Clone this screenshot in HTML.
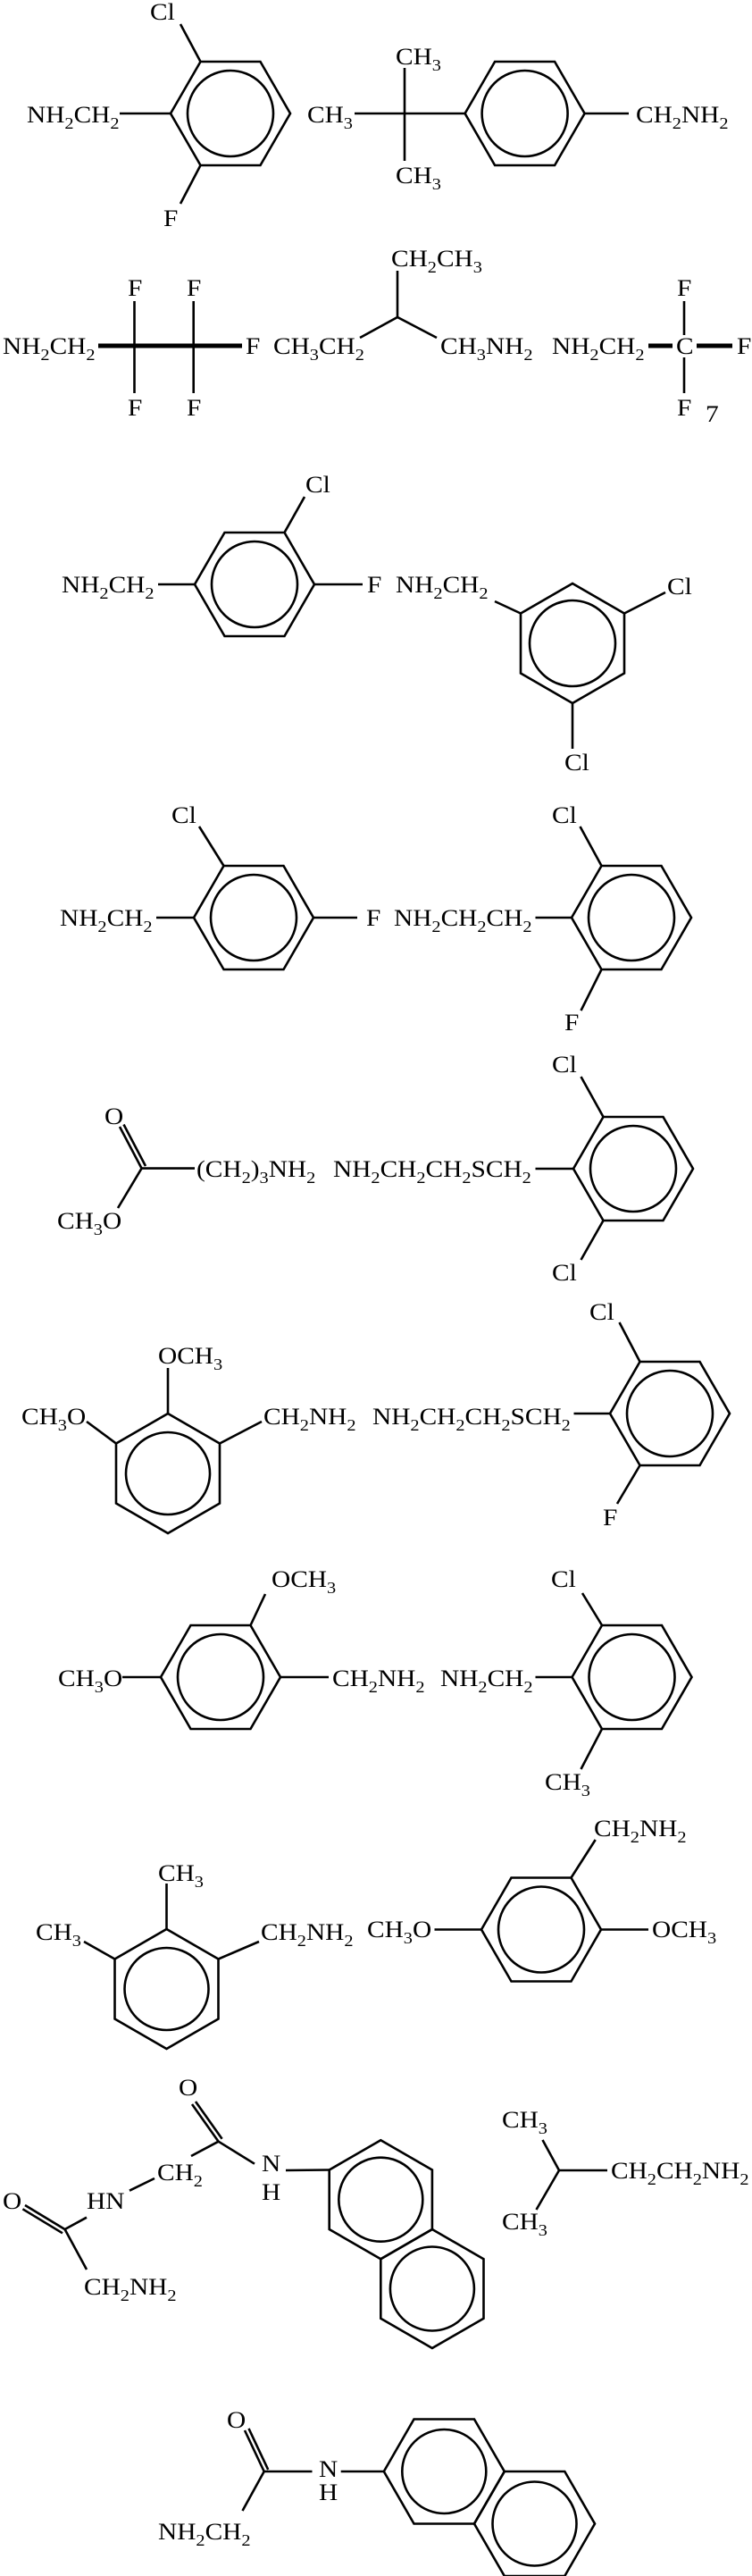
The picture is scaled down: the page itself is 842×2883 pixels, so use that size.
<!DOCTYPE html>
<html><head><meta charset="utf-8"><style>
html,body{margin:0;padding:0;background:#fff}
svg{display:block}
text{font-family:"Liberation Serif",serif;font-size:26px;fill:#000}
</style></head><body>
<svg width="842" height="2883" viewBox="0 0 842 2883" xmlns="http://www.w3.org/2000/svg">
<g fill="none" stroke="#000" stroke-width="2.6">
<!-- Row1 -->
<polygon points="191,127 224.5,69 291.5,69 325,127 291.5,185 224.5,185"/><circle cx="258" cy="127" r="48"/>
<line x1="202" y1="27" x2="224.5" y2="69"/><line x1="134" y1="127" x2="191" y2="127"/><line x1="224.5" y1="185" x2="202" y2="228"/>
<polygon points="520.6,127 554.1,69 621.1,69 654.6,127 621.1,185 554.1,185"/><circle cx="587.6" cy="127" r="48"/>
<line x1="397" y1="127" x2="520.6" y2="127"/><line x1="453" y1="76" x2="453" y2="180"/><line x1="654.6" y1="127" x2="704" y2="127"/>
<!-- Row2 -->
<line x1="110" y1="387" x2="271" y2="387" stroke-width="5"/>
<line x1="150.5" y1="337" x2="150.5" y2="440"/><line x1="216.7" y1="337" x2="216.7" y2="440"/>
<polyline points="403,378 445,355 489,378"/><line x1="445" y1="355" x2="445" y2="303"/>
<line x1="726" y1="387" x2="753" y2="387" stroke-width="5"/><line x1="780" y1="387" x2="820" y2="387" stroke-width="5"/>
<line x1="766" y1="337" x2="766" y2="375"/><line x1="766" y1="400" x2="766" y2="440"/>
<!-- Row3 -->
<polygon points="218,654 251.5,596 318.5,596 352,654 318.5,712 251.5,712"/><circle cx="285" cy="654" r="48"/>
<line x1="177" y1="654" x2="218" y2="654"/><line x1="352" y1="654" x2="406" y2="654"/><line x1="318.5" y1="596" x2="341" y2="556"/>
<polygon points="641,653 699,686.5 699,753.5 641,787 583,753.5 583,686.5"/><circle cx="641" cy="720" r="48"/>
<line x1="554" y1="673" x2="583" y2="686.5"/><line x1="699" y1="686.5" x2="745" y2="663"/><line x1="641" y1="787" x2="641" y2="838"/>
<!-- Row4 -->
<polygon points="217,1027 250.5,969 317.5,969 351,1027 317.5,1085 250.5,1085"/><circle cx="284" cy="1027" r="48"/>
<line x1="175" y1="1027" x2="217" y2="1027"/><line x1="351" y1="1027" x2="400" y2="1027"/><line x1="250.5" y1="969" x2="223" y2="925"/>
<polygon points="640,1027 673.5,969 740.5,969 774,1027 740.5,1085 673.5,1085"/><circle cx="707" cy="1027" r="48"/>
<line x1="599.5" y1="1027" x2="640" y2="1027"/><line x1="673.5" y1="969" x2="649.5" y2="925"/><line x1="673.5" y1="1085" x2="650.5" y2="1131"/>
<!-- Row5 -->
<line x1="158.6" y1="1307.6" x2="134" y2="1261"/><line x1="163" y1="1305" x2="138.5" y2="1258.5"/>
<line x1="158.6" y1="1307.6" x2="218" y2="1307.6"/><line x1="158.6" y1="1307.6" x2="132" y2="1352"/>
<polygon points="642,1308 675.5,1250 742.5,1250 776,1308 742.5,1366 675.5,1366"/><circle cx="709" cy="1308" r="48"/>
<line x1="599.5" y1="1308" x2="642" y2="1308"/><line x1="675.5" y1="1250" x2="650.5" y2="1205"/><line x1="675.5" y1="1366" x2="650.5" y2="1410"/>
<!-- Row6 -->
<polygon points="188,1582 246,1615.5 246,1682.5 188,1716 130,1682.5 130,1615.5"/><ellipse cx="188" cy="1649" rx="47" ry="46"/>
<line x1="188" y1="1582" x2="188" y2="1531"/><line x1="97" y1="1591" x2="130" y2="1615.5"/><line x1="246" y1="1615.5" x2="293" y2="1591"/>
<polygon points="683,1582 716.5,1524 783.5,1524 817,1582 783.5,1640 716.5,1640"/><circle cx="750" cy="1582" r="48"/>
<line x1="642.5" y1="1582" x2="683" y2="1582"/><line x1="716.5" y1="1524" x2="693.5" y2="1480"/><line x1="716.5" y1="1640" x2="691" y2="1683"/>
<!-- Row7 -->
<polygon points="180,1877 213.5,1819 280.5,1819 314,1877 280.5,1935 213.5,1935"/><circle cx="247" cy="1877" r="48"/>
<line x1="280.5" y1="1819" x2="297" y2="1784"/><line x1="137" y1="1877" x2="180" y2="1877"/><line x1="314" y1="1877" x2="368" y2="1877"/>
<polygon points="640.5,1877 674,1819 741,1819 774.5,1877 741,1935 674,1935"/><circle cx="707.5" cy="1877" r="48"/>
<line x1="599.5" y1="1877" x2="640.5" y2="1877"/><line x1="674" y1="1819" x2="652" y2="1783"/><line x1="674" y1="1935" x2="650.5" y2="1980"/>
<!-- Row8 -->
<polygon points="186.5,2159 244.5,2192.5 244.5,2259.5 186.5,2293 128.5,2259.5 128.5,2192.5"/><ellipse cx="186.5" cy="2226" rx="47" ry="46"/>
<line x1="186.5" y1="2159" x2="186.5" y2="2108"/><line x1="94" y1="2173" x2="128.5" y2="2192.5"/><line x1="244.5" y1="2192.5" x2="290" y2="2173"/>
<polygon points="539,2159.5 572.5,2101.5 639.5,2101.5 673,2159.5 639.5,2217.5 572.5,2217.5"/><circle cx="606" cy="2159.5" r="48"/>
<line x1="486.5" y1="2159.5" x2="539" y2="2159.5"/><line x1="673" y1="2159.5" x2="726" y2="2159.5"/><line x1="639.5" y1="2101.5" x2="666.7" y2="2059"/>
<!-- Row9 -->
<polygon points="426.3,2395.2 483.9,2428.5 483.9,2495 426.3,2528.2 368.7,2495 368.7,2428.5"/><circle cx="426.3" cy="2461.7" r="47"/>
<polygon points="483.9,2495 541.5,2528.2 541.5,2594.7 483.9,2628 426.3,2594.7 426.3,2528.2"/><circle cx="483.9" cy="2561.5" r="47"/>
<line x1="320" y1="2429" x2="368.7" y2="2428.5"/>
<line x1="244.6" y1="2396.7" x2="285" y2="2421.7"/>
<line x1="244.6" y1="2396.7" x2="215" y2="2355"/><line x1="248.6" y1="2393.8" x2="219" y2="2352"/>
<line x1="244.6" y1="2396.7" x2="214" y2="2413"/>
<line x1="173" y1="2438" x2="145" y2="2451.7"/>
<line x1="97" y1="2481.7" x2="72.6" y2="2495"/>
<line x1="72.6" y1="2495" x2="28" y2="2468"/><line x1="70" y1="2499.3" x2="25.4" y2="2472.3"/>
<line x1="72.6" y1="2495" x2="97" y2="2540"/>
<line x1="607.5" y1="2395" x2="626" y2="2429"/><line x1="626" y1="2429" x2="600.5" y2="2473"/><line x1="626" y1="2429" x2="680" y2="2429"/>
<!-- Row10 -->
<polygon points="429.8,2766 463.5,2707.5 531,2707.5 564.8,2766 531,2824.5 463.5,2824.5"/><circle cx="497.3" cy="2766" r="47"/>
<polygon points="531,2824.5 564.8,2766 632.3,2766 666,2824.5 632.3,2883 564.8,2883"/><circle cx="598.5" cy="2824.5" r="47"/>
<line x1="381.7" y1="2766" x2="429.8" y2="2766"/><line x1="295.7" y1="2766" x2="349.5" y2="2766"/>
<line x1="295.7" y1="2766" x2="274" y2="2720"/><line x1="300.2" y1="2763.9" x2="278.5" y2="2717.9"/>
<line x1="295.7" y1="2766" x2="271.5" y2="2810"/>
</g>

<!-- Texts -->
<text transform="translate(168 22) scale(1.13 1)">Cl</text>
<text transform="translate(30 137) scale(1.13 1)">NH<tspan dy="7" font-size="18">2</tspan><tspan dy="-7">CH</tspan><tspan dy="7" font-size="18">2</tspan></text>
<text transform="translate(183 253) scale(1.13 1)">F</text>
<text transform="translate(344 137) scale(1.13 1)">CH<tspan dy="7" font-size="18">3</tspan></text>
<text transform="translate(443 72) scale(1.13 1)">CH<tspan dy="7" font-size="18">3</tspan></text>
<text transform="translate(443 205) scale(1.13 1)">CH<tspan dy="7" font-size="18">3</tspan></text>
<text transform="translate(712 137) scale(1.13 1)">CH<tspan dy="7" font-size="18">2</tspan><tspan dy="-7">NH</tspan><tspan dy="7" font-size="18">2</tspan></text>

<text transform="translate(3 396) scale(1.13 1)">NH<tspan dy="7" font-size="18">2</tspan><tspan dy="-7">CH</tspan><tspan dy="7" font-size="18">2</tspan></text>
<text transform="translate(143 331) scale(1.13 1)">F</text><text transform="translate(209 331) scale(1.13 1)">F</text>
<text transform="translate(143 465) scale(1.13 1)">F</text><text transform="translate(209 465) scale(1.13 1)">F</text>
<text transform="translate(275 396) scale(1.13 1)">F</text>
<text transform="translate(306 396) scale(1.13 1)">CH<tspan dy="7" font-size="18">3</tspan><tspan dy="-7">CH</tspan><tspan dy="7" font-size="18">2</tspan></text>
<text transform="translate(438 298) scale(1.13 1)">CH<tspan dy="7" font-size="18">2</tspan><tspan dy="-7">CH</tspan><tspan dy="7" font-size="18">3</tspan></text>
<text transform="translate(493 396) scale(1.13 1)">CH<tspan dy="7" font-size="18">3</tspan><tspan dy="-7">NH</tspan><tspan dy="7" font-size="18">2</tspan></text>
<text transform="translate(618 396) scale(1.13 1)">NH<tspan dy="7" font-size="18">2</tspan><tspan dy="-7">CH</tspan><tspan dy="7" font-size="18">2</tspan></text>
<text transform="translate(757 396) scale(1.13 1)">C</text>
<text transform="translate(825 396) scale(1.13 1)">F</text>
<text transform="translate(758 331) scale(1.13 1)">F</text>
<text transform="translate(758 465) scale(1.13 1)">F</text>
<text transform="translate(790 472) scale(1.13 1)" font-size="18">7</text>

<text transform="translate(342 551) scale(1.13 1)">Cl</text>
<text transform="translate(69 663) scale(1.13 1)">NH<tspan dy="7" font-size="18">2</tspan><tspan dy="-7">CH</tspan><tspan dy="7" font-size="18">2</tspan></text>
<text transform="translate(411 663) scale(1.13 1)">F</text>
<text transform="translate(443 663) scale(1.13 1)">NH<tspan dy="7" font-size="18">2</tspan><tspan dy="-7">CH</tspan><tspan dy="7" font-size="18">2</tspan></text>
<text transform="translate(747 665) scale(1.13 1)">Cl</text>
<text transform="translate(632 862) scale(1.13 1)">Cl</text>

<text transform="translate(192 921) scale(1.13 1)">Cl</text>
<text transform="translate(67 1036) scale(1.13 1)">NH<tspan dy="7" font-size="18">2</tspan><tspan dy="-7">CH</tspan><tspan dy="7" font-size="18">2</tspan></text>
<text transform="translate(410 1036) scale(1.13 1)">F</text>
<text transform="translate(441 1036) scale(1.13 1)">NH<tspan dy="7" font-size="18">2</tspan><tspan dy="-7">CH</tspan><tspan dy="7" font-size="18">2</tspan><tspan dy="-7">CH</tspan><tspan dy="7" font-size="18">2</tspan></text>
<text transform="translate(618 921) scale(1.13 1)">Cl</text>
<text transform="translate(632 1153) scale(1.13 1)">F</text>

<text transform="translate(117 1258) scale(1.13 1)">O</text>
<text transform="translate(220 1317) scale(1.13 1)">(CH<tspan dy="7" font-size="18">2</tspan><tspan dy="-7">)</tspan><tspan dy="7" font-size="18">3</tspan><tspan dy="-7">NH</tspan><tspan dy="7" font-size="18">2</tspan></text>
<text transform="translate(64 1375) scale(1.13 1)">CH<tspan dy="7" font-size="18">3</tspan><tspan dy="-7">O</tspan></text>
<text transform="translate(373 1317) scale(1.13 1)">NH<tspan dy="7" font-size="18">2</tspan><tspan dy="-7">CH</tspan><tspan dy="7" font-size="18">2</tspan><tspan dy="-7">CH</tspan><tspan dy="7" font-size="18">2</tspan><tspan dy="-7">SCH</tspan><tspan dy="7" font-size="18">2</tspan></text>
<text transform="translate(618 1200) scale(1.13 1)">Cl</text>
<text transform="translate(618 1433) scale(1.13 1)">Cl</text>

<text transform="translate(177 1526) scale(1.13 1)">OCH<tspan dy="7" font-size="18">3</tspan></text>
<text transform="translate(24 1594) scale(1.13 1)">CH<tspan dy="7" font-size="18">3</tspan><tspan dy="-7">O</tspan></text>
<text transform="translate(295 1594) scale(1.13 1)">CH<tspan dy="7" font-size="18">2</tspan><tspan dy="-7">NH</tspan><tspan dy="7" font-size="18">2</tspan></text>
<text transform="translate(417 1594) scale(1.13 1)">NH<tspan dy="7" font-size="18">2</tspan><tspan dy="-7">CH</tspan><tspan dy="7" font-size="18">2</tspan><tspan dy="-7">CH</tspan><tspan dy="7" font-size="18">2</tspan><tspan dy="-7">SCH</tspan><tspan dy="7" font-size="18">2</tspan></text>
<text transform="translate(660 1477) scale(1.13 1)">Cl</text>
<text transform="translate(675 1707) scale(1.13 1)">F</text>

<text transform="translate(304 1776) scale(1.13 1)">OCH<tspan dy="7" font-size="18">3</tspan></text>
<text transform="translate(617 1776) scale(1.13 1)">Cl</text>
<text transform="translate(65 1887) scale(1.13 1)">CH<tspan dy="7" font-size="18">3</tspan><tspan dy="-7">O</tspan></text>
<text transform="translate(372 1887) scale(1.13 1)">CH<tspan dy="7" font-size="18">2</tspan><tspan dy="-7">NH</tspan><tspan dy="7" font-size="18">2</tspan></text>
<text transform="translate(493 1887) scale(1.13 1)">NH<tspan dy="7" font-size="18">2</tspan><tspan dy="-7">CH</tspan><tspan dy="7" font-size="18">2</tspan></text>
<text transform="translate(610 2003) scale(1.13 1)">CH<tspan dy="7" font-size="18">3</tspan></text>

<text transform="translate(177 2105) scale(1.13 1)">CH<tspan dy="7" font-size="18">3</tspan></text>
<text transform="translate(40 2171) scale(1.13 1)">CH<tspan dy="7" font-size="18">3</tspan></text>
<text transform="translate(292 2171) scale(1.13 1)">CH<tspan dy="7" font-size="18">2</tspan><tspan dy="-7">NH</tspan><tspan dy="7" font-size="18">2</tspan></text>
<text transform="translate(411 2168) scale(1.13 1)">CH<tspan dy="7" font-size="18">3</tspan><tspan dy="-7">O</tspan></text>
<text transform="translate(730 2168) scale(1.13 1)">OCH<tspan dy="7" font-size="18">3</tspan></text>
<text transform="translate(665 2055) scale(1.13 1)">CH<tspan dy="7" font-size="18">2</tspan><tspan dy="-7">NH</tspan><tspan dy="7" font-size="18">2</tspan></text>

<text transform="translate(200 2345) scale(1.13 1)">O</text>
<text transform="translate(293 2430) scale(1.13 1)">N</text>
<text transform="translate(293 2462) scale(1.13 1)">H</text>
<text transform="translate(176 2440) scale(1.13 1)">CH<tspan dy="7" font-size="18">2</tspan></text>
<text transform="translate(97 2472) scale(1.13 1)">HN</text>
<text transform="translate(3 2472) scale(1.13 1)">O</text>
<text transform="translate(94 2568) scale(1.13 1)">CH<tspan dy="7" font-size="18">2</tspan><tspan dy="-7">NH</tspan><tspan dy="7" font-size="18">2</tspan></text>
<text transform="translate(562 2381) scale(1.13 1)">CH<tspan dy="7" font-size="18">3</tspan></text>
<text transform="translate(562 2495) scale(1.13 1)">CH<tspan dy="7" font-size="18">3</tspan></text>
<text transform="translate(684 2438) scale(1.13 1)">CH<tspan dy="7" font-size="18">2</tspan><tspan dy="-7">CH</tspan><tspan dy="7" font-size="18">2</tspan><tspan dy="-7">NH</tspan><tspan dy="7" font-size="18">2</tspan></text>

<text transform="translate(254 2717) scale(1.13 1)">O</text>
<text transform="translate(357 2772) scale(1.13 1)">N</text>
<text transform="translate(357 2798) scale(1.13 1)">H</text>
<text transform="translate(177 2842) scale(1.13 1)">NH<tspan dy="7" font-size="18">2</tspan><tspan dy="-7">CH</tspan><tspan dy="7" font-size="18">2</tspan></text>
</svg>
</body></html>
